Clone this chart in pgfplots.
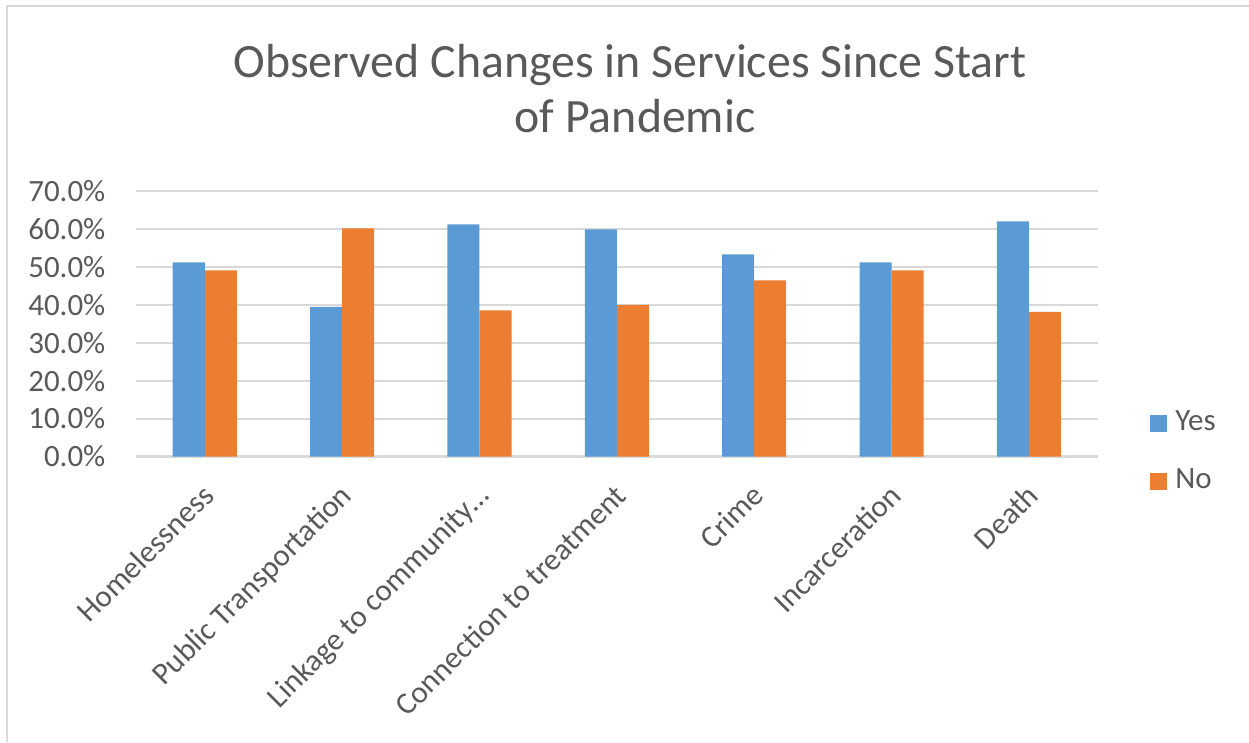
\documentclass[border=0pt]{standalone}
\usepackage{pgfplots}
\pgfplotsset{compat=1.18}
\usepackage{fontspec}
\setmainfont{Carlito}
\definecolor{cblue}{HTML}{5B9BD5}
\definecolor{corange}{HTML}{ED7D31}
\definecolor{ctext}{HTML}{595959}
\definecolor{cgrid}{HTML}{D9D9D9}
\begin{document}
\begin{tikzpicture}[x=0.01cm,y=0.01cm]
\useasboundingbox (0,0) rectangle (1249,742);
\draw[cgrid, line width=0.02cm] (7,0) -- (7,736) -- (1249,736);
\node[anchor=base, text=ctext, font=\fontsize{13.6}{15}\selectfont, inner sep=0pt] at (630,664) {Observed Changes in Services Since Start};
\node[anchor=base, text=ctext, font=\fontsize{13.6}{15}\selectfont, inner sep=0pt] at (635,609) {of Pandemic};
\begin{axis}[
  at={(1.36cm,2.853cm)}, anchor=south west,
  width=9.61cm, height=2.657cm, scale only axis,
  xmin=-0.5, xmax=6.5, ymin=0, ymax=70,
  ybar=0pt, bar width=0.32cm,
  ytick={0,10,...,70},
  yticklabel={\pgfmathprintnumber[fixed,fixed zerofill,precision=1]{\tick}\%},
  xtick={0,...,6},
  xticklabels={Homelessness, Public Transportation, Linkage to community…, Connection to treatment, Crime, Incarceration, Death},
  major tick length=0pt,
  ymajorgrids, grid style={cgrid, line width=0.6pt},
  axis line style={draw=none},
  tick label style={font=\fontsize{8.8}{10}\selectfont, text=ctext},
  /pgf/number format/assume math mode=true,
  y tick label style={anchor=east, inner sep=0pt, xshift=-0.30cm},
  x tick label style={xshift=-0.04cm, yshift=-0.25cm, rotate=45, anchor=north east, inner sep=0pt},
  legend style={at={(1.054,0.176)}, anchor=north west, draw=none, fill=none,
    font=\fontsize{8.8}{10}\selectfont, text=ctext, inner sep=0pt,
    row sep=0.33cm, nodes={inner sep=0pt},
    /tikz/every odd column/.append style={column sep=0.08cm}},
  legend cell align=left,
]
\addplot[fill=cblue, draw=none, legend image code/.code={\fill[cblue] (0cm,-0.085cm) rectangle (0.17cm,0.085cm);}]
  coordinates {(0,51.1) (1,39.4) (2,61.1) (3,59.8) (4,53.2) (5,51.1) (6,61.9)};
\addplot[fill=corange, draw=none, legend image code/.code={\fill[corange] (0cm,-0.085cm) rectangle (0.17cm,0.085cm);}]
  coordinates {(0,49.0) (1,60.1) (2,38.5) (3,39.9) (4,46.4) (5,49.0) (6,38.1)};
\legend{Yes, No}
\end{axis}
\end{tikzpicture}
\end{document}
